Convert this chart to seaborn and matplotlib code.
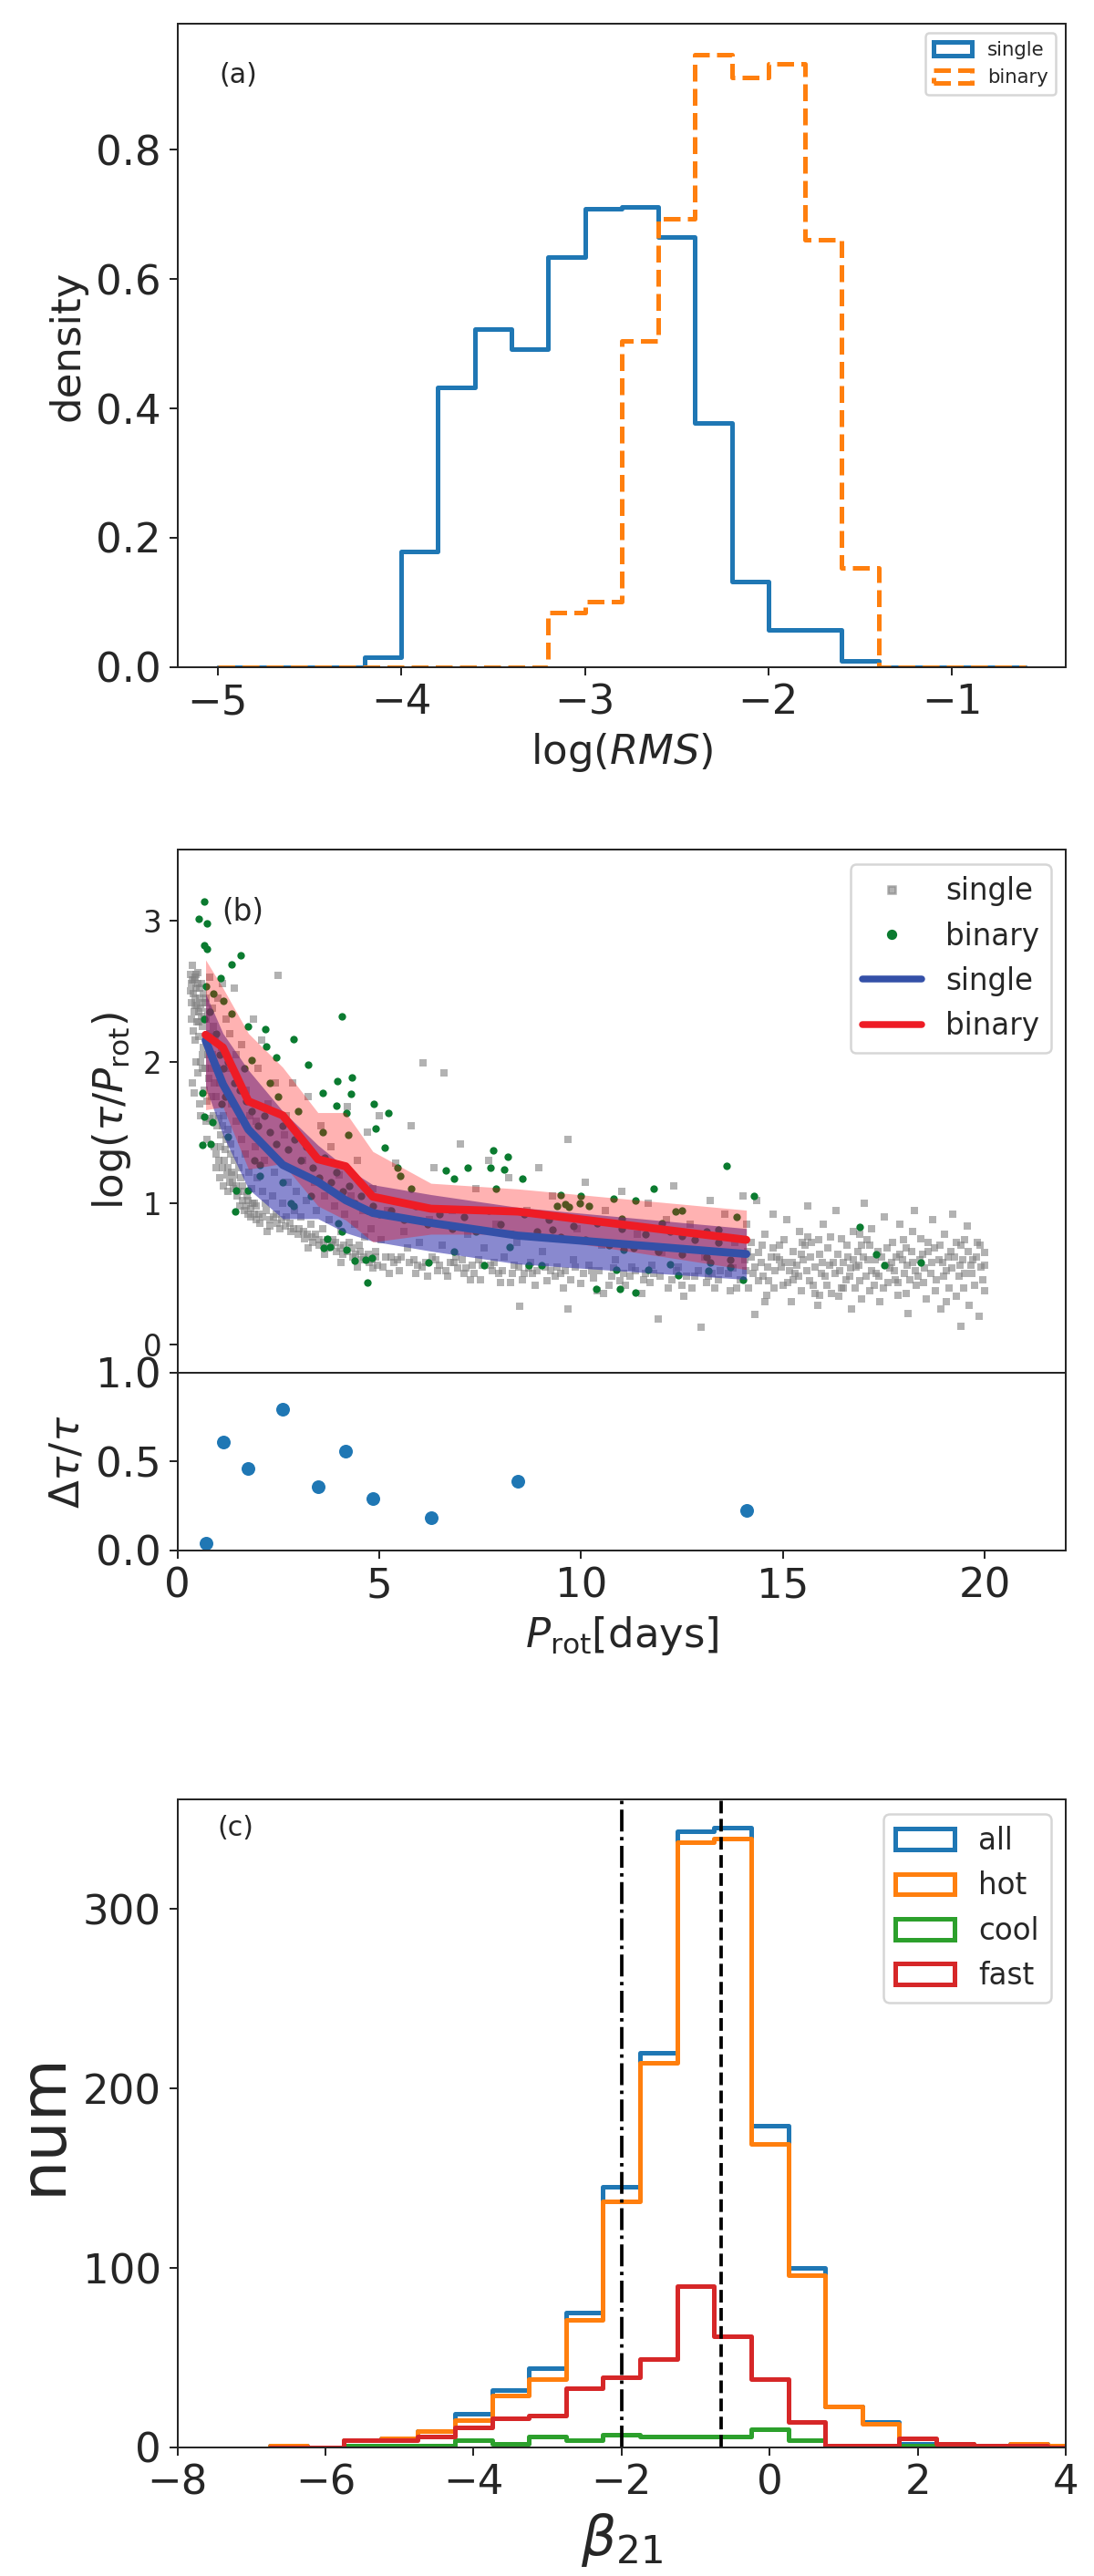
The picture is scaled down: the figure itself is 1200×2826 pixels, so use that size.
import numpy as np
import pandas as pd
import matplotlib
matplotlib.use("Agg")
import matplotlib.pyplot as plt
import seaborn as sns
from matplotlib.patches import Patch
from matplotlib.lines import Line2D

# --- Data: panel (a), density of log(RMS) ---
rms_edges = np.arange(-5.0, -0.5, 0.2)          # 22 bins, -5.0 ... -0.6
rms_single = [0, 0, 0, 0, 0.015, 0.179, 0.432, 0.523, 0.491, 0.634, 0.708,
              0.711, 0.665, 0.378, 0.132, 0.057, 0.057, 0.010, 0, 0, 0, 0]
rms_binary = [0, 0, 0, 0, 0, 0, 0, 0, 0, 0.084, 0.102,
              0.505, 0.693, 0.947, 0.912, 0.932, 0.660, 0.154, 0, 0, 0, 0]

# --- Data: panel (b), log(tau/Prot) vs Prot ---
single_points = [
    (0.32, 2.62), (0.35, 2.55), (0.38, 2.68), (0.40, 2.48), (0.42, 2.58), (0.45, 2.40), (0.47, 2.52), (0.50, 2.63),
    (0.52, 2.35), (0.55, 2.45), (0.36, 2.30), (0.40, 2.22), (0.44, 2.15), (0.48, 2.28), (0.53, 2.18), (0.57, 2.38),
    (0.60, 2.55), (0.62, 2.25), (0.65, 2.10), (0.68, 2.42), (0.38, 1.85), (0.42, 1.78), (0.46, 2.00), (0.50, 1.92),
    (0.55, 1.70), (0.58, 1.62), (0.62, 1.95), (0.66, 1.80), (0.70, 1.58), (0.72, 2.30), (0.75, 2.05), (0.78, 1.88),
    (0.80, 2.60), (0.74, 1.45), (0.77, 2.18), (0.34, 2.42), (0.58, 2.00), (0.64, 2.48), (0.70, 2.15), (0.44, 2.60),
    (0.85, 1.95), (0.88, 1.62), (0.90, 2.25), (0.92, 1.40), (0.95, 1.75), (0.98, 1.55), (1.00, 2.45), (1.02, 1.30),
    (1.05, 1.85), (1.08, 1.48), (1.10, 2.10), (1.12, 1.25), (1.15, 1.62), (1.18, 1.38), (1.20, 2.30), (1.22, 1.20),
    (1.25, 1.52), (1.28, 1.95), (1.30, 1.15), (1.32, 1.42), (1.35, 1.70), (1.38, 1.10), (1.40, 2.52), (1.42, 1.30),
    (1.45, 1.58), (1.48, 1.05), (0.95, 1.25), (1.05, 1.18), (1.15, 1.12), (1.25, 1.08), (1.35, 1.22), (1.45, 2.05),
    (0.86, 2.38), (1.12, 2.55), (1.30, 2.20),
    (1.52, 1.25), (1.55, 0.98), (1.58, 1.45), (1.60, 2.12), (1.62, 1.12), (1.65, 0.95), (1.68, 1.35), (1.70, 1.80),
    (1.72, 1.05), (1.75, 0.92), (1.78, 1.22), (1.80, 1.62), (1.82, 0.90), (1.85, 1.10), (1.88, 2.30), (1.90, 1.00),
    (1.92, 1.40), (1.95, 0.88), (1.98, 1.18), (2.00, 1.95), (2.05, 0.86), (2.10, 1.08), (2.15, 1.30), (2.20, 0.95),
    (2.25, 1.70), (2.30, 0.84), (2.35, 1.05), (2.40, 1.22), (2.45, 0.92), (2.50, 2.61), (2.55, 0.82), (2.60, 1.00),
    (2.65, 1.48), (2.70, 0.90), (2.75, 1.15), (2.80, 0.80), (2.85, 1.85), (2.90, 0.95), (2.95, 1.08), (3.00, 0.78),
    (2.08, 2.15), (2.42, 1.85), (2.70, 1.62), (1.95, 1.58), (2.22, 0.80),
    (3.05, 0.90), (3.10, 1.30), (3.15, 0.75), (3.20, 1.02), (3.25, 1.75), (3.30, 0.85), (3.35, 0.72), (3.40, 1.15),
    (3.45, 0.95), (3.50, 0.70), (3.55, 1.55), (3.60, 0.82), (3.65, 1.05), (3.70, 0.68), (3.75, 0.88), (3.80, 1.40),
    (3.85, 0.74), (3.90, 0.98), (3.95, 0.66), (4.00, 1.20), (4.05, 0.80), (4.10, 0.64), (4.15, 0.92), (4.20, 1.68),
    (4.25, 0.72), (4.30, 1.05), (4.35, 0.62), (4.40, 0.85), (4.45, 1.30), (4.50, 0.70), (4.55, 0.60), (4.60, 0.95),
    (4.65, 0.76), (4.70, 1.50), (4.75, 0.58), (4.80, 0.82), (4.85, 1.10), (4.90, 0.66), (4.95, 0.56), (5.00, 1.62),
    (3.25, 0.68), (3.65, 0.64), (4.05, 0.58), (4.45, 0.55), (4.85, 0.54),
    (5.05, 0.74), (5.10, 0.55), (5.20, 0.95), (5.30, 0.62), (5.40, 1.28), (5.50, 0.52), (5.60, 0.80), (5.70, 0.68),
    (5.80, 1.55), (5.90, 0.50), (6.00, 0.72), (6.08, 1.99), (6.15, 0.58), (6.25, 0.88), (6.35, 1.25), (6.45, 0.52),
    (6.55, 0.70), (6.60, 1.92), (6.70, 0.48), (6.80, 0.95), (6.90, 0.62), (7.00, 1.42), (7.10, 0.50), (7.20, 0.78),
    (7.30, 0.56), (7.40, 1.10), (7.50, 0.46), (7.60, 0.68), (7.70, 1.30), (7.80, 0.52), (7.90, 0.85), (8.00, 0.44),
    (8.10, 0.62), (8.20, 1.18), (8.30, 0.50), (8.40, 0.72), (8.47, 0.27), (8.55, 0.46), (8.65, 0.95), (8.75, 0.58),
    (8.85, 0.42), (8.95, 1.25), (5.45, 0.60), (5.95, 0.56), (6.40, 0.60), (6.95, 0.54), (7.45, 0.60), (7.95, 0.50),
    (8.45, 0.55), (8.90, 0.52), (5.25, 0.50), (5.75, 0.58), (6.20, 0.48), (6.75, 0.58), (7.25, 0.46), (7.75, 0.56),
    (8.25, 0.44), (8.80, 0.50),
    (9.05, 0.66), (9.15, 0.45), (9.30, 1.05), (9.40, 0.55), (9.55, 0.40), (9.67, 1.45), (9.67, 0.25), (9.80, 0.60),
    (9.90, 0.82), (10.00, 0.43), (10.10, 1.15), (10.25, 0.52), (10.40, 0.38), (10.50, 0.70), (10.60, 0.95), (10.75, 0.48),
    (10.85, 0.60), (11.00, 1.08), (11.10, 0.42), (11.25, 0.55), (11.40, 0.78), (11.50, 0.36), (11.65, 1.00), (11.80, 0.50),
    (11.90, 0.18), (12.00, 0.65), (12.15, 0.40), (12.30, 1.12), (12.40, 0.55), (12.55, 0.34), (12.70, 0.85), (12.80, 0.48),
    (12.96, 0.12), (13.05, 0.62), (13.20, 1.02), (13.30, 0.40), (13.45, 0.52), (13.55, 0.92), (13.70, 0.38), (13.80, 0.72),
    (13.95, 0.46), (14.00, 1.05), (9.50, 0.50), (10.30, 0.47), (10.95, 0.45), (11.70, 0.44), (12.50, 0.42), (13.10, 0.44),
    (13.85, 0.40), (12.10, 0.88), (9.25, 0.52), (9.75, 0.46), (10.20, 0.56), (10.70, 0.42), (11.20, 0.48), (11.75, 0.56),
    (12.25, 0.46), (12.75, 0.40), (13.25, 0.50), (13.75, 0.54), (10.55, 0.36), (11.55, 0.46),
    (14.05, 0.60), (14.10, 0.85), (14.15, 0.40), (14.20, 0.72), (14.30, 0.21), (14.30, 0.55), (14.35, 1.02), (14.40, 0.65),
    (14.50, 0.48), (14.55, 0.78), (14.60, 0.35), (14.70, 0.62), (14.75, 0.92), (14.80, 0.52), (14.90, 0.70), (15.00, 0.42),
    (15.05, 0.58), (15.10, 0.88), (15.20, 0.30), (15.25, 0.66), (15.30, 0.50), (15.40, 0.80), (15.45, 0.38), (15.50, 0.60),
    (15.60, 0.98), (15.65, 0.45), (15.70, 0.72), (15.80, 0.55), (15.85, 0.28), (15.90, 0.64), (16.00, 0.85), (16.05, 0.48),
    (16.10, 0.68), (16.20, 0.36), (16.25, 0.58), (16.30, 0.95), (16.40, 0.52), (16.45, 0.75), (16.50, 0.40), (16.60, 0.62),
    (16.70, 0.25), (16.75, 0.80), (16.80, 0.55), (16.90, 0.45), (16.95, 0.70), (17.00, 1.00), (17.10, 0.60), (17.15, 0.38),
    (17.20, 0.82), (17.30, 0.50), (17.35, 0.66), (17.40, 0.30), (17.50, 0.90), (17.55, 0.56), (17.60, 0.44), (17.70, 0.72),
    (17.80, 0.62), (17.85, 0.35), (17.90, 0.85), (18.00, 0.50), (18.05, 0.68), (18.10, 0.22), (18.20, 0.58), (18.25, 0.95),
    (18.30, 0.42), (18.40, 0.75), (18.50, 0.54), (18.55, 0.32), (18.60, 0.66), (18.70, 0.88), (18.80, 0.46), (18.85, 0.60),
    (18.90, 0.25), (19.00, 0.78), (19.05, 0.52), (19.10, 0.40), (19.20, 0.92), (19.25, 0.62), (19.30, 0.34), (19.40, 0.70),
    (19.40, 0.13), (19.50, 0.50), (19.55, 0.84), (19.60, 0.28), (19.70, 0.60), (19.75, 0.42), (19.80, 0.72), (19.85, 0.20),
    (19.90, 0.55), (20.00, 0.65), (20.00, 0.38), (14.25, 0.50), (14.65, 0.45), (15.15, 0.52), (15.75, 0.42), (16.15, 0.56),
    (16.65, 0.48), (17.25, 0.42), (17.75, 0.52), (18.35, 0.48), (14.12, 0.66), (14.45, 0.58), (14.85, 0.62), (15.35, 0.56),
    (15.55, 0.70), (15.95, 0.50), (16.35, 0.64), (16.55, 0.46), (16.85, 0.66), (17.05, 0.48), (17.45, 0.62), (17.65, 0.54),
    (17.95, 0.60), (18.15, 0.46), (18.45, 0.64), (18.65, 0.50), (18.95, 0.58), (19.15, 0.66), (19.35, 0.48), (19.65, 0.56),
    (19.95, 0.46), (14.95, 0.55), (15.45, 0.64), (16.75, 0.60), (17.15, 0.70), (18.75, 0.68), (19.45, 0.60), (15.25, 0.46),
    (16.45, 0.40), (17.85, 0.44), (14.55, 0.30), (15.90, 0.35), (16.95, 0.32), (18.05, 0.36), (19.05, 0.30), (15.60, 0.76),
    (16.90, 0.78), (18.20, 0.80), (19.50, 0.74), (14.75, 0.68),
    (0.33, 2.50), (0.37, 2.58), (0.41, 2.35), (0.43, 2.45), (0.46, 2.62), (0.49, 2.40), (0.51, 2.55), (0.54, 2.28),
    (0.56, 2.52), (0.59, 2.32), (0.61, 2.42), (0.63, 2.05), (0.67, 2.30), (0.69, 1.95), (0.71, 2.45), (0.73, 1.72),
    (0.76, 2.35), (0.79, 1.60), (0.82, 2.20), (0.84, 1.75), (0.87, 2.05), (0.91, 1.85), (0.94, 2.15), (0.97, 1.35),
    (0.99, 1.95), (1.03, 1.60), (1.07, 1.40), (1.11, 1.55), (1.16, 1.30), (1.21, 1.45), (1.26, 1.25), (1.31, 1.35),
    (1.36, 1.15), (1.41, 1.20), (1.46, 1.12), (1.51, 1.08), (1.56, 1.18), (1.61, 1.02), (1.66, 1.08), (1.71, 0.98),
    (1.76, 1.02), (1.81, 0.96), (1.86, 1.00), (1.91, 0.92), (1.96, 0.98), (2.02, 0.92), (2.12, 0.90), (2.18, 1.00),
    (2.28, 0.88), (2.38, 0.90), (2.48, 0.86), (2.58, 0.88), (2.68, 0.84), (2.78, 0.86), (2.88, 0.82), (3.02, 0.82),
    (3.12, 0.80), (3.22, 0.78), (3.32, 0.76), (3.42, 0.78), (3.52, 0.74), (3.62, 0.72), (3.72, 0.74), (3.82, 0.70),
    (3.92, 0.72), (4.02, 0.68), (4.12, 0.70), (4.22, 0.66), (4.32, 0.68), (4.42, 0.64), (4.52, 0.66), (4.62, 0.62),
    (4.72, 0.64), (4.82, 0.60), (4.92, 0.62), (5.15, 0.62), (5.35, 0.58), (5.55, 0.62), (5.85, 0.60), (6.05, 0.55),
    (6.30, 0.62), (6.50, 0.56), (6.65, 0.52), (6.85, 0.58), (7.05, 0.60), (7.15, 0.54), (7.35, 0.50), (7.55, 0.56),
    (7.85, 0.58), (8.05, 0.52), (8.35, 0.56), (8.60, 0.50), (8.70, 0.54), (9.10, 0.55), (9.35, 0.48), (9.60, 0.52),
    (9.85, 0.55), (10.05, 0.50), (10.45, 0.52), (10.80, 0.54), (11.05, 0.50), (11.35, 0.52), (11.60, 0.50), (11.95, 0.48),
    (12.35, 0.52), (12.60, 0.48), (12.90, 0.52), (13.15, 0.48), (13.40, 0.46), (13.65, 0.50),
    (14.08, 0.52), (14.22, 0.62), (14.38, 0.45), (14.48, 0.70), (14.62, 0.55), (14.78, 0.40), (14.92, 0.60), (15.02, 0.74),
    (15.12, 0.44), (15.22, 0.58), (15.38, 0.48), (15.48, 0.72), (15.58, 0.52), (15.68, 0.62), (15.78, 0.36), (15.88, 0.74),
    (15.98, 0.58), (16.08, 0.42), (16.18, 0.76), (16.28, 0.50), (16.38, 0.34), (16.48, 0.58), (16.58, 0.70), (16.68, 0.54),
    (16.78, 0.40), (16.88, 0.56), (16.98, 0.62), (17.08, 0.74), (17.18, 0.52), (17.28, 0.60), (17.38, 0.48), (17.48, 0.40),
    (17.58, 0.68), (17.68, 0.58), (17.78, 0.46), (17.88, 0.64), (17.98, 0.74), (18.08, 0.56), (18.18, 0.66), (18.28, 0.52),
    (18.38, 0.60), (18.48, 0.44), (18.58, 0.72), (18.68, 0.58), (18.78, 0.38), (18.88, 0.70), (18.98, 0.48), (19.08, 0.62),
    (19.18, 0.54), (19.28, 0.72), (19.38, 0.56), (19.48, 0.40), (19.58, 0.66), (19.68, 0.50), (19.78, 0.62), (19.88, 0.70),
    (19.98, 0.56),
]

binary_points = [
    (0.66, 3.13), (0.54, 3.01), (0.74, 2.98), (0.66, 2.82), (0.74, 2.80), (1.57, 2.75), (1.35, 2.69), (1.08, 2.59),
    (0.70, 2.53), (0.90, 2.48), (1.14, 2.43), (1.34, 2.34), (0.66, 2.30), (1.75, 2.25), (4.08, 2.32), (2.17, 2.23),
    (2.88, 2.16), (2.21, 2.11), (2.44, 2.03), (1.85, 2.01), (3.24, 1.98), (0.62, 1.78), (3.96, 1.86), (4.32, 1.89),
    (4.31, 1.77), (3.59, 1.78), (3.95, 1.69), (4.19, 1.64), (4.86, 1.70), (5.22, 1.64), (4.90, 1.53), (4.23, 1.48),
    (0.66, 1.61), (0.86, 1.57), (0.62, 1.41), (0.82, 1.42), (1.18, 1.75), (1.26, 1.47), (2.05, 1.27), (2.05, 1.19),
    (1.45, 1.09), (1.75, 1.09), (1.43, 0.94), (2.80, 1.00), (2.88, 0.98), (3.71, 0.75), (3.63, 0.68), (3.79, 0.69),
    (3.99, 0.86), (4.07, 0.80), (4.19, 0.67), (4.38, 0.59), (4.66, 0.60), (4.82, 0.61), (4.70, 0.44), (5.14, 1.39),
    (5.45, 1.25), (5.53, 1.19), (6.64, 1.23), (6.84, 1.17), (7.19, 1.25), (7.83, 1.37), (8.18, 1.33), (8.10, 1.24),
    (7.75, 1.25), (8.54, 1.17), (6.21, 0.58), (6.84, 0.66), (7.59, 0.56), (8.22, 0.69), (8.70, 0.56), (9.02, 0.56),
    (10.96, 0.39), (9.49, 1.06), (9.97, 1.00), (10.20, 0.98), (11.35, 1.02),
    (0.80, 2.35), (0.95, 2.20), (1.05, 2.05), (1.15, 1.95), (1.25, 2.00), (1.40, 1.85), (1.55, 1.80), (1.70, 1.72),
    (1.85, 1.65), (2.00, 1.55), (2.15, 1.62), (2.30, 1.50), (2.45, 1.42), (2.60, 1.55), (2.75, 1.38), (2.90, 1.45),
    (3.05, 1.30), (3.20, 1.40), (3.35, 1.25), (3.50, 1.18), (3.65, 1.32), (3.80, 1.15), (3.95, 1.22), (4.10, 1.08),
    (4.25, 1.12), (4.40, 1.00), (4.55, 1.05), (4.70, 0.95), (4.85, 0.98), (5.00, 0.92), (5.30, 0.95), (5.60, 0.88),
    (5.90, 0.98), (6.20, 0.85), (6.50, 0.92), (6.80, 0.82), (7.10, 0.90), (7.40, 0.80), (7.70, 0.95), (8.00, 0.85),
    (8.30, 0.78), (8.60, 0.92), (8.90, 0.80), (9.20, 0.88), (9.50, 0.76), (9.80, 0.84), (10.10, 0.74), (10.40, 0.86),
    (10.70, 0.70), (11.00, 0.82), (11.30, 0.68), (11.60, 0.78), (11.90, 0.66), (12.20, 0.80), (12.50, 0.64), (12.80, 0.74),
    (13.10, 0.62), (13.40, 0.72), (13.70, 0.60), (1.65, 1.95), (2.30, 1.85), (1.10, 1.70), (1.90, 1.30), (2.60, 1.15),
    (3.30, 1.05), (3.00, 1.65), (3.60, 1.50), (2.50, 1.75), (5.80, 1.10), (7.90, 1.10), (10.00, 1.05), (12.50, 0.95),
    (11.80, 1.10), (13.60, 1.26), (14.28, 1.05), (14.00, 0.46), (16.90, 0.83), (17.30, 0.64), (17.50, 0.56), (18.40, 0.58),
    (10.38, 0.39), (11.34, 0.37), (10.87, 0.53), (11.67, 0.53), (12.40, 0.49), (13.16, 0.52), (10.80, 1.03), (12.33, 0.94),
    (9.40, 0.98), (9.60, 0.99), (9.70, 0.97), (13.85, 0.90), (13.70, 0.55), (13.20, 0.58), (11.00, 0.89), (12.00, 0.86),
    (12.50, 0.77), (13.10, 0.80), (13.40, 0.81), (9.30, 0.81), (11.05, 0.67), (11.90, 0.67), (12.20, 0.57),
]

# binned curves (mean and spread) and relative difference
prot_bins = [0.70, 1.13, 1.76, 2.61, 3.48, 4.17, 4.84, 6.28, 8.43, 14.09]
single_mean = [2.15, 1.84, 1.52, 1.27, 1.15, 1.02, 0.93, 0.86, 0.77, 0.64]
single_std = [0.33, 0.36, 0.42, 0.38, 0.26, 0.23, 0.20, 0.20, 0.20, 0.18]
binary_mean = [2.19, 2.10, 1.72, 1.62, 1.31, 1.26, 1.045, 0.96, 0.94, 0.74]
binary_std = [0.53, 0.42, 0.48, 0.34, 0.33, 0.38, 0.32, 0.18, 0.16, 0.21]
dtau_ratio = [0.041, 0.610, 0.459, 0.793, 0.359, 0.559, 0.291, 0.183, 0.391, 0.224]

# --- Data: panel (c), beta_21 histograms ---
beta_edges = np.arange(-6.75, 4.5, 0.5)        # 22 bins
beta_all = [1, 0, 4, 5, 9, 19, 32, 44, 75, 145, 220, 343, 345, 179, 100, 23, 14, 2, 2, 0, 2, 1]
beta_hot = [1, 0, 4, 5, 9, 15, 29, 38, 71, 137, 214, 337, 339, 169, 96, 23, 13, 1, 2, 0, 2, 1]
beta_cool = [0, 0, 1, 1, 1, 4, 2, 6, 4, 7, 6, 6, 6, 10, 4, 1, 1, 1, 0, 0, 0, 0]
beta_fast = [0, 0, 4, 4, 6, 11, 16, 18, 33, 39, 49, 90, 62, 38, 14, 1, 1, 5, 2, 1, 1, 0]
beta_lines = [-2.0, -0.66]


def step_hist(ax, edges, counts, **kws):
    """Draw a pre-binned histogram outline with seaborn."""
    edges = np.asarray(edges, dtype=float)
    df = pd.DataFrame({"center": (edges[:-1] + edges[1:]) / 2,
                       "count": np.asarray(counts, dtype=float)})
    sns.histplot(data=df, x="center", weights="count", bins=list(edges),
                 element="step", fill=False, ax=ax, **kws)


sns.set_style("ticks")
plt.rcParams["font.family"] = ["DejaVu Sans"]
plt.rcParams["mathtext.fontset"] = "dejavusans"

fig = plt.figure(figsize=(1200 / 180, 2826 / 180), dpi=180)
left, width = 0.1621, 0.8121
ax_a = fig.add_axes([left, 0.7410, width, 0.2499])
ax_b = fig.add_axes([left, 0.4671, width, 0.2031])
ax_d = fig.add_axes([left, 0.3981, width, 0.0690], sharex=ax_b)
ax_c = fig.add_axes([left, 0.0499, width, 0.2516])

# --- (a) ---
step_hist(ax_a, rms_edges, rms_single, color="#1f77b4", linewidth=2)
step_hist(ax_a, rms_edges, rms_binary, color="#ff7f0e", linewidth=2, linestyle="--")
ax_a.set_xlim(-5.22, -0.38)
ax_a.set_ylim(0, 0.995)
ax_a.set_xlabel("log($RMS$)", fontsize=18)
ax_a.set_ylabel("density", fontsize=18)
ax_a.tick_params(labelsize=18)
ax_a.text(0.047, 0.92, "(a)", transform=ax_a.transAxes, fontsize=12, va="center")
ax_a.legend(handles=[Patch(facecolor="none", edgecolor="#1f77b4", linewidth=2, label="single"),
                     Patch(facecolor="none", edgecolor="#ff7f0e", linewidth=2, linestyle="--", label="binary")],
            loc="upper right", fontsize=8.5)

# --- (b) ---
sp = np.array(single_points)
bp = np.array(binary_points)
sns.scatterplot(x=sp[:, 0], y=sp[:, 1], marker="s", color="gray", alpha=0.6, s=11,
                linewidth=0, ax=ax_b)
sns.scatterplot(x=bp[:, 0], y=bp[:, 1], marker="o", color="#0b7b30", s=11,
                linewidth=0, ax=ax_b)
px = np.array(prot_bins)
sm, ss = np.array(single_mean), np.array(single_std)
bm, bs = np.array(binary_mean), np.array(binary_std)
ax_b.fill_between(px, sm - ss, sm + ss, color="#3a3aaf", alpha=0.6, linewidth=0, zorder=3)
ax_b.fill_between(px, bm - bs, bm + bs, color="red", alpha=0.3, linewidth=0, zorder=3)
sns.lineplot(x=px, y=sm, color="#3450a8", linewidth=3.5, ax=ax_b, zorder=4)
sns.lineplot(x=px, y=bm, color="#ee1c25", linewidth=3.5, ax=ax_b, zorder=4)
ax_b.set_xlim(0, 22)
ax_b.set_ylim(-0.2, 3.5)
ax_b.set_yticks([0, 1, 2, 3])
ax_b.tick_params(axis="y", labelsize=13)
ax_b.tick_params(axis="x", bottom=False, labelbottom=False)
ax_b.set_xlabel("")
ax_b.set_ylabel(r"$\log(\tau/P_{\rm rot})$", fontsize=18)
ax_b.text(0.05, 0.88, "(b)", transform=ax_b.transAxes, fontsize=13, va="center")
ax_b.legend(handles=[Line2D([], [], ls="", marker="s", color="gray", alpha=0.6, markersize=3.5, label="single"),
                     Line2D([], [], ls="", marker="o", color="#0b7b30", markersize=3.5, label="binary"),
                     Line2D([], [], color="#3450a8", linewidth=3, label="single"),
                     Line2D([], [], color="#ee1c25", linewidth=3, label="binary")],
            loc="upper right", fontsize=13)

sns.scatterplot(x=px, y=dtau_ratio, color="#1f77b4", s=36, linewidth=0, ax=ax_d)
ax_d.set_ylim(0, 1)
ax_d.set_yticks([0, 0.5, 1.0])
ax_d.set_xticks([0, 5, 10, 15, 20])
ax_d.set_xlim(0, 22)
ax_d.tick_params(labelsize=18)
ax_d.set_xlabel(r"$P_{\rm rot}$[days]", fontsize=18)
ax_d.set_ylabel(r"$\Delta\tau/\tau$", fontsize=18)

# --- (c) ---
step_hist(ax_c, beta_edges, beta_all, color="#1f77b4", linewidth=2)
step_hist(ax_c, beta_edges, beta_hot, color="#ff7f0e", linewidth=2)
step_hist(ax_c, beta_edges, beta_cool, color="#2ca02c", linewidth=2)
step_hist(ax_c, beta_edges, beta_fast, color="#d62728", linewidth=2)
ax_c.axvline(beta_lines[0], color="black", linestyle="-.", linewidth=1.5)
ax_c.axvline(beta_lines[1], color="black", linestyle="--", linewidth=1.5)
ax_c.set_xlim(-8, 4)
ax_c.set_ylim(0, 361)
ax_c.set_xlabel(r"$\beta_{21}$", fontsize=24)
ax_c.set_ylabel("num", fontsize=28)
ax_c.tick_params(labelsize=18)
ax_c.text(0.045, 0.955, "(c)", transform=ax_c.transAxes, fontsize=12, va="center")
ax_c.legend(handles=[Patch(facecolor="none", edgecolor=c, linewidth=2, label=l)
                     for c, l in zip(["#1f77b4", "#ff7f0e", "#2ca02c", "#d62728"],
                                     ["all", "hot", "cool", "fast"])],
            loc="upper right", fontsize=13)

fig.savefig("out.png", dpi=180)
